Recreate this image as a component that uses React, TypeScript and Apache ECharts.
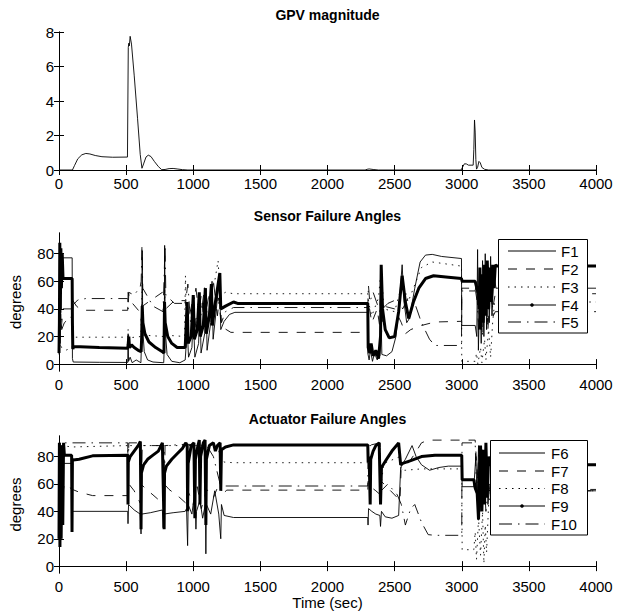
import React, { useEffect, useRef } from "react";
import * as echarts from "echarts";

type P = [number, number][];

const xTicks = [0, 500, 1000, 1500, 2000, 2500, 3000, 3500, 4000];
const gpvTicks = [0, 2, 4, 6, 8];
const degTicks = [0, 20, 40, 60, 80];

const titles = ["GPV magnitude", "Sensor Failure Angles", "Actuator Failure Angles"];
const sensorNames = ["F1", "F2", "F3", "F4", "F5"];
const actuatorNames = ["F6", "F7", "F8", "F9", "F10"];

const gpv: P = [[0,0],[100,0],[115,0.25],[140,0.65],[170,0.88],[200,0.96],[230,0.93],[270,0.84],[320,0.77],[400,0.74],[510,0.75],[514,0.76],[516,7.1],[520,7.35],[524,7.2],[530,7.75],[540,7.3],[560,5.5],[585,3.0],[605,0.9],[618,0.1],[630,0.35],[648,0.75],[665,0.86],[685,0.78],[710,0.5],[740,0.2],[765,0.02],[790,0.03],[820,0.08],[850,0.09],[880,0.06],[920,0.02],[960,0],[2280,0],[2295,0.04],[2310,0.06],[2340,0.03],[2380,0],[2995,0],[3005,0.15],[3020,0.36],[3035,0.35],[3050,0.28],[3085,0.28],[3090,1.2],[3095,2.9],[3100,2.2],[3105,0.6],[3110,0.05],[3118,0.15],[3128,0.5],[3138,0.42],[3150,0.15],[3170,0.04],[3200,0],[4000,0]];

const f1: P = [[0,7],[4,86],[8,15],[12,60],[15,77],[98,77],[100,4],[106,1.5],[300,1.3],[512,1.2],[515,22],[518,2],[530,5],[545,1],[575,3],[610,1],[616,20],[620,82],[624,25],[635,9],[660,3],[700,1.5],[780,1],[784,12],[787,86],[791,25],[805,7],[840,2],[900,1],[940,3],[955,25],[965,5],[990,12],[1000,35],[1012,5],[1040,15],[1050,45],[1058,8],[1085,22],[1095,55],[1103,10],[1130,30],[1140,60],[1148,18],[1170,38],[1195,62],[1205,25],[1230,31],[1270,36],[1310,37.5],[2298,37.5],[2300,8],[2310,3],[2320,10],[2335,2],[2350,8],[2370,3],[2390,6],[2400,30],[2405,7],[2440,6],[2480,9],[2510,20],[2535,45],[2556,72],[2570,45],[2590,30],[2610,33],[2650,55],[2690,74],[2730,79],[2780,79.5],[2850,78],[2998,76.5],[3000,28],[3100,28],[3112,20],[3118,83],[3124,10],[3135,60],[3145,15],[3155,75],[3165,20],[3175,80],[3185,25],[3195,70],[3205,30],[3215,78],[3225,35],[3240,65],[3255,55],[4000,55]];

const f2: P = [[0,12],[8,70],[16,25],[30,40],[98,40],[104,46],[130,42],[170,39],[512,39],[515,52],[530,46],[600,38],[615,30],[622,42],[680,46],[770,52],[780,44],[787,30],[795,40],[860,46],[940,46],[960,30],[1000,48],[1020,25],[1060,50],[1080,30],[1120,52],[1150,35],[1190,48],[1205,32],[1230,26],[1280,23],[2300,23],[2305,45],[2330,30],[2370,40],[2400,20],[2420,42],[2500,40],[2550,30],[2580,22],[2620,25],[2700,28],[2800,30.5],[2998,31],[3000,55],[3100,55],[3115,45],[3130,62],[3150,35],[3170,60],[3190,30],[3210,58],[3230,40],[3250,51],[4000,51]];

const f3: P = [[0,8],[10,15],[20,12],[50,10],[98,12],[106,19.5],[512,19.5],[515,25],[520,19],[610,20],[620,60],[625,21],[780,20],[787,55],[792,21],[935,20],[942,64],[950,22],[1000,25],[1040,40],[1100,45],[1160,60],[1185,75],[1200,50],[1240,52],[1300,51],[2300,51],[2305,45],[2330,35],[2380,48],[2400,70],[2420,40],[2500,38],[2560,60],[2600,45],[2700,70],[2780,74],[2998,71],[3000,2],[3100,2],[3110,8],[3120,0],[3140,12],[3150,1],[3170,18],[3180,3],[3200,25],[3215,5],[3230,30],[3245,45],[4000,45]];

const f4: P = [[0,8],[3,30],[6,88],[10,40],[14,84],[18,55],[24,80],[30,62],[98,62],[100,30],[103,11],[110,12.8],[300,12],[512,11.5],[515,14],[520,20],[525,12],[540,14],[560,12],[590,10],[612,9],[616,20],[620,42],[625,30],[640,22],[670,16],[720,12],[770,9],[782,8],[786,45],[791,30],[810,20],[840,15],[880,12],[940,12],[955,45],[962,15],[985,20],[1000,50],[1008,18],[1030,25],[1045,52],[1052,20],[1075,28],[1090,55],[1097,22],[1120,35],[1135,58],[1142,28],[1165,45],[1198,66],[1205,40],[1240,42],[1300,45],[1330,44],[2300,44],[2303,12],[2315,8],[2325,15],[2340,6],[2360,10],[2380,4],[2395,20],[2400,72],[2410,40],[2430,25],[2460,19],[2500,20],[2530,38],[2556,64],[2580,45],[2605,33],[2640,45],[2680,55],[2730,62],[2790,64],[2900,63],[2998,62],[3003,60],[3100,60],[3110,56],[3120,52],[3125,55],[3130,40],[3135,70],[3140,25],[3150,65],[3160,30],[3170,72],[3180,35],[3190,75],[3200,40],[3210,70],[3220,45],[3230,72],[3240,55],[3250,72],[3260,71],[4000,71]];

const f5: P = [[0,15],[10,50],[20,25],[40,30],[98,35],[106,43],[140,46.5],[200,47.5],[512,47.5],[515,40],[520,52],[560,50],[605,56],[612,60],[618,86],[624,55],[700,42],[775,38],[782,60],[790,86],[796,50],[860,44],[940,44],[960,58],[980,30],[1020,55],[1050,30],[1085,56],[1110,28],[1150,60],[1180,35],[1200,52],[1210,30],[1240,38],[1300,41],[2300,41],[2305,57],[2315,45],[2340,52],[2390,38],[2400,60],[2410,40],[2450,44],[2520,47],[2560,40],[2600,48],[2640,47],[2700,30],[2760,18],[2800,13.5],[2998,13.5],[3000,53],[3100,53],[3110,60],[3125,25],[3140,65],[3155,20],[3175,62],[3195,25],[3215,60],[3235,35],[3250,38],[4000,38]];

const f6: P = [[0,20],[5,88],[12,30],[20,75],[94,75],[96,25],[100,40],[512,40],[514,31],[518,45],[560,41],[605,38],[611,23.5],[615,38],[680,39],[770,41],[776,28],[780,38],[850,39],[940,40],[950,42],[958,15],[962,45],[990,38],[1012,55],[1020,27],[1024,40],[1050,48],[1070,35],[1090,45],[1094,9],[1098,45],[1130,38],[1160,55],[1190,38],[1205,20],[1210,45],[1230,37],[1300,35.5],[2300,35.5],[2302,30],[2306,42],[2330,40],[2360,38],[2390,37],[2395,29],[2402,40],[2430,36],[2480,35],[2530,37],[2545,72],[2580,78],[2630,88],[2660,80],[2700,74],[2760,70],[2830,72],[2900,73],[3000,73],[3003,58],[3090,58],[3105,80],[3115,48],[3125,88],[3135,40],[3150,85],[3165,50],[3180,88],[3195,45],[3210,60],[3230,55],[4000,55]];

const f7: P = [[0,30],[6,80],[15,45],[40,60],[100,56],[150,54],[250,51.5],[512,51.5],[515,45],[520,60],[560,55],[605,46],[611,60],[640,57],[700,52],[770,46],[783,60],[820,56],[900,50],[945,46],[960,55],[1000,45],[1030,58],[1060,42],[1100,56],[1150,50],[1200,62],[1210,52],[1250,55.5],[2300,55.5],[2303,62],[2320,58],[2360,55],[2395,52],[2400,62],[2450,57],[2500,52],[2540,48],[2548,70],[2600,75],[2650,82],[2700,90],[2750,92],[3000,92],[3100,92],[3120,60],[3140,85],[3160,45],[3180,80],[3200,55],[3230,56],[4000,56]];

const f8: P = [[0,60],[10,88],[100,87],[512,88],[515,75],[520,88],[950,88],[1150,88],[1190,85],[1200,78],[1230,76],[1300,75.5],[2300,75.5],[2303,88],[2390,88],[2400,60],[2420,75],[2540,80],[2550,70],[2580,70],[2700,71],[3000,71],[3003,12],[3090,12],[3100,25],[3110,5],[3125,35],[3140,8],[3155,40],[3165,2],[3175,30],[3185,10],[3200,45],[3215,55],[4000,55]];

const f9: P = [[0,20],[3,90],[7,14],[12,88],[16,20],[22,85],[28,30],[34,90],[40,81],[94,81],[97,25],[100,78],[106,77.5],[150,78],[250,80.5],[512,81],[514,45],[516,76],[530,80],[560,84],[590,88],[606,91],[611,27],[614,68],[630,74],[660,78],[700,81],[740,84],[770,90],[783,27],[786,68],[800,73],[840,78],[880,82],[920,86],[945,90],[955,88],[958,40],[962,75],[985,88],[1005,90],[1012,35],[1016,78],[1035,88],[1045,92],[1050,45],[1055,80],[1075,90],[1088,92],[1094,30],[1098,78],[1120,88],[1150,90],[1165,84],[1180,88],[1200,90],[1205,55],[1210,85],[1240,87],[1300,88.5],[2300,88.5],[2303,76],[2310,80],[2318,45],[2322,78],[2340,84],[2360,88],[2385,90],[2395,45],[2402,72],[2440,78],[2480,84],[2530,90],[2545,74],[2560,75],[2620,77],[2700,80],[2800,81],[3000,81],[3003,63],[3090,63],[3100,57],[3115,53],[3125,34],[3130,60],[3140,88],[3150,40],[3160,85],[3170,45],[3180,90],[3190,50],[3200,80],[3210,74],[4000,74]];

const f10: P = [[0,30],[8,90],[20,65],[40,90],[100,90],[512,90],[515,60],[520,90],[611,90],[615,60],[620,88],[783,88],[786,60],[790,88],[950,89],[1100,88],[1150,80],[1200,60],[1210,55],[1240,58.5],[2300,58.5],[2303,88],[2390,90],[2400,55],[2450,60],[2520,52],[2550,45],[2580,30],[2620,42],[2650,45],[2700,32],[2750,23],[2800,22.5],[3000,22.5],[3002,90],[3100,90],[3110,55],[3130,85],[3145,45],[3160,75],[3180,40],[3200,60],[3220,55],[4000,55]];

const FONT = "'Liberation Sans', Arial, Helvetica, sans-serif";
const TICK_FS = 15;
const DASH = [9, 9];
const DOT = [1.5, 5];
const DASHDOT = [13, 6, 1.5, 6];
const styles = [
  { type: "solid", width: 0.9, dot: false },
  { type: DASH, width: 0.9, dot: false },
  { type: DOT, width: 0.9, dot: false },
  { type: "solid", width: 3, dot: true },
  { type: DASHDOT, width: 0.9, dot: false },
];

const grids = [
  { left: 59, right: 31, top: 32, height: 138 },
  { left: 59, right: 31, top: 233, height: 138 },
  { left: 59, right: 31, top: 436, height: 137 },
];

function buildOption() {
  const xAxis: any[] = [];
  const yAxis: any[] = [];
  const line = { show: true, lineStyle: { color: "#000", width: 1 } };
  const plain = (v: number) => String(v);
  grids.forEach((_, i) => {
    const base = {
      type: "value", gridIndex: i, min: 0, max: 4000, interval: 500,
      axisLine: line, splitLine: { show: false },
      axisTick: { show: true, inside: true, length: 5, customValues: xTicks, lineStyle: { color: "#000" } },
    };
    xAxis.push({
      ...base, position: "bottom",
      axisLabel: { show: true, color: "#000", fontSize: TICK_FS, fontFamily: FONT, margin: 6,
        customValues: xTicks, formatter: plain },
      ...(i === 2 ? { name: "Time (sec)", nameLocation: "middle", nameGap: 19,
        nameTextStyle: { color: "#000", fontSize: TICK_FS, fontFamily: FONT } } : {}),
    });
    xAxis.push({ ...base, position: "top", axisLabel: { show: false } });
    const ticks = i === 0 ? gpvTicks : degTicks;
    const yb: any = i === 0 ? { min: 0, max: 8, interval: 2 } : { min: -5, max: 95 };
    const tick = { show: true, inside: true, length: 5, customValues: ticks, lineStyle: { color: "#000" } };
    yAxis.push({
      type: "value", gridIndex: i, position: "left", axisLine: line, splitLine: { show: false }, ...yb,
      axisTick: tick,
      axisLabel: { show: true, color: "#000", fontSize: TICK_FS, fontFamily: FONT, margin: 5,
        customValues: ticks, formatter: plain },
      ...(i > 0 ? { name: "degrees", nameLocation: "middle", nameGap: 36,
        nameTextStyle: { color: "#000", fontSize: TICK_FS, fontFamily: FONT } } : {}),
    });
    yAxis.push({
      type: "value", gridIndex: i, position: "right", axisLine: line, splitLine: { show: false }, ...yb,
      axisTick: tick, axisLabel: { show: false },
    });
  });

  const mk = (name: string, data: P, grid: number, st: any) => ({
    type: "line", name, data, xAxisIndex: grid * 2, yAxisIndex: grid * 2,
    symbol: "none", silent: true, animation: false, clip: true,
    lineStyle: { color: "#000", width: st.width, type: st.type },
    z: st.dot ? 3 : 2,
  });

  const series: any[] = [
    mk("GPV", gpv, 0, styles[0]),
    ...[f1, f2, f3, f4, f5].map((d, k) => mk(sensorNames[k], d, 1, styles[k])),
    ...[f6, f7, f8, f9, f10].map((d, k) => mk(actuatorNames[k], d, 2, styles[k])),
  ];

  const graphic: any[] = [];
  const centerX = 59 + (627 - 59 - 31) / 2;
  titles.forEach((t, i) => {
    graphic.push({
      type: "text", x: centerX, y: grids[i].top - 17, z: 20,
      style: { text: t, fill: "#000", fontSize: 14, fontWeight: "bold", fontFamily: FONT,
        align: "center", verticalAlign: "middle", textAlign: "center", textVerticalAlign: "middle" },
    });
  });

  const legends = [
    { names: sensorNames, box: [498.5, 239.5, 89, 93.5], x1: 508, x2: 556, tx: 561, ys: [251, 269, 287, 305, 322] },
    { names: actuatorNames, box: [490.5, 440.5, 97, 94.5], x1: 499, x2: 545, tx: 551, ys: [453, 471, 488.5, 506, 524] },
  ];
  legends.forEach((lg) => {
    graphic.push({
      type: "rect", z: 30, shape: { x: lg.box[0], y: lg.box[1], width: lg.box[2], height: lg.box[3] },
      style: { fill: "#fff", stroke: "#000", lineWidth: 1 },
    });
    lg.names.forEach((n, k) => {
      const st = styles[k];
      graphic.push({
        type: "line", z: 31, shape: { x1: lg.x1, y1: lg.ys[k], x2: lg.x2, y2: lg.ys[k] },
        style: { stroke: "#000", lineWidth: 1, lineDash: st.type === "solid" ? null : st.type },
      });
      if (st.dot) {
        graphic.push({
          type: "circle", z: 32, shape: { cx: (lg.x1 + lg.x2) / 2, cy: lg.ys[k], r: 1.8 },
          style: { fill: "#000" },
        });
      }
      graphic.push({
        type: "text", z: 32, x: lg.tx, y: lg.ys[k],
        style: { text: n, fill: "#000", fontSize: TICK_FS, fontFamily: FONT,
          align: "left", verticalAlign: "middle", textAlign: "left", textVerticalAlign: "middle" },
      });
    });
  });

  return {
    animation: false,
    backgroundColor: "#fff",
    textStyle: { fontFamily: FONT },
    grid: grids.map((g) => ({ ...g, containLabel: false, outerBoundsMode: "none" })),
    xAxis, yAxis, series, graphic,
  };
}

export default function App() {
  const ref = useRef<HTMLDivElement>(null);
  useEffect(() => {
    if (!ref.current) return;
    const chart = echarts.init(ref.current, undefined, { renderer: "svg" });
    chart.setOption(buildOption() as any);
    return () => chart.dispose();
  }, []);
  return (
    <div ref={ref} style={{ position: "fixed", left: 0, top: 0, width: 627, height: 612, background: "#fff" }} />
  );
}
